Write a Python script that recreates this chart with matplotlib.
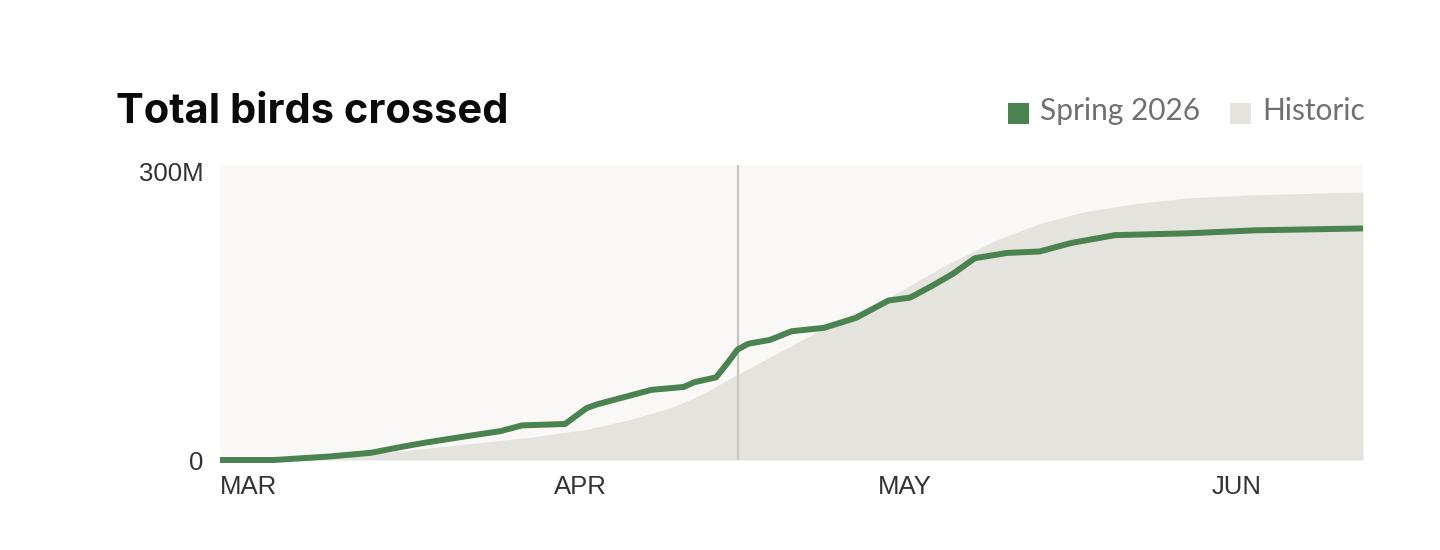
import numpy as np
import pandas as pd
import matplotlib
matplotlib.use('Agg')
import matplotlib.pyplot as plt
from matplotlib.patches import Rectangle

# ---- data (millions of birds) ----
spring_dates = ['2026-03-01', '2026-03-06', '2026-03-11', '2026-03-15', '2026-03-18',
                '2026-03-20', '2026-03-24', '2026-03-27', '2026-03-29', '2026-04-02',
                '2026-04-04', '2026-04-05', '2026-04-07', '2026-04-10', '2026-04-13',
                '2026-04-14', '2026-04-16', '2026-04-17', '2026-04-18', '2026-04-19',
                '2026-04-21', '2026-04-23', '2026-04-26', '2026-04-29', '2026-05-02',
                '2026-05-04', '2026-05-06', '2026-05-08', '2026-05-10', '2026-05-13',
                '2026-05-16', '2026-05-19', '2026-05-23', '2026-05-30', '2026-06-05',
                '2026-06-15']
spring_vals = [0, 0, 3.5, 7.5, 14, 18, 25, 30, 36, 37.5,
               54, 58, 64, 73, 76, 81, 86, 100, 115, 121,
               125, 134, 137.5, 148, 166, 169, 181, 194, 210, 215.5,
               217, 226, 234, 236, 239, 241]

hist_dates = ['2026-03-01', '2026-03-06', '2026-03-11', '2026-03-15', '2026-03-20',
              '2026-03-25', '2026-03-30', '2026-04-04', '2026-04-08', '2026-04-12',
              '2026-04-15', '2026-04-17', '2026-04-20', '2026-04-24', '2026-04-28',
              '2026-05-02', '2026-05-07', '2026-05-12', '2026-05-16', '2026-05-20',
              '2026-05-25', '2026-05-30', '2026-06-05', '2026-06-15']
hist_vals = [0, 1, 3.5, 6, 12, 18, 24, 32, 42, 55,
             70, 83, 101, 125, 149, 169, 201, 229, 246, 258,
             267, 273, 276, 279]

today = '2026-04-18'
tick_dates = ['2026-03-01', '2026-04-01', '2026-05-01', '2026-06-01']
tick_labels = ['MAR', 'APR', 'MAY', 'JUN']

# ---- style ----
GREEN = '#4a8250'
HIST = '#e4e3de'
BG = '#f9f8f6'
TICK = '#333333'
LEG = '#707070'

spring_x = pd.to_datetime(spring_dates)
hist_x = pd.to_datetime(hist_dates)

fig = plt.figure(figsize=(14.4, 5.5), dpi=100)
ax = fig.add_axes([220/1440, 1 - 460/550, (1363-220)/1440, (460-165)/550])
ax.set_facecolor(BG)

ax.fill_between(hist_x, 0, hist_vals, color=HIST, lw=0, zorder=1)
ax.axvline(pd.to_datetime(today), color='#c6c6c2', lw=1.6, zorder=2)
ax.plot(spring_x, spring_vals, color=GREEN, lw=4.3, solid_joinstyle='round',
        solid_capstyle='butt', zorder=3, clip_on=False)

ax.set_xlim(pd.to_datetime('2026-03-01'), pd.to_datetime('2026-06-15'))
ax.set_ylim(0, 307)
for s in ax.spines.values():
    s.set_visible(False)

ax.set_yticks([0, 300])
ax.set_yticklabels(['0', '300M'])
ax.set_xticks(pd.to_datetime(tick_dates))
ax.set_xticklabels(tick_labels)
ax.tick_params(axis='both', length=0, labelsize=18.5, labelcolor=TICK)
ax.tick_params(axis='y', pad=12)
ax.tick_params(axis='x', pad=11)
for lab in ax.get_xticklabels():
    lab.set_horizontalalignment('left')
    lab.set_fontfamily('Liberation Sans')
for lab in ax.get_yticklabels():
    lab.set_fontfamily('Liberation Sans')

# title
fig.text(116/1440, 1 - 123/550, 'Total birds crossed', fontsize=30, fontweight='bold',
         family='Inter', color='#0a0a0a', ha='left', va='baseline')

# legend (manual, as in the reference)
def leg_item(x0, label, col):
    fig.patches.append(Rectangle((x0/1440, 1 - 124/550), 21/1440, 21/550,
                                 transform=fig.transFigure, color=col, lw=0))
    fig.text((x0 + 32)/1440, 1 - 120/550, label, fontsize=21.5, family='Lato',
             color=LEG, ha='left', va='baseline')

leg_item(1008, 'Spring 2026', GREEN)
leg_item(1230, 'Historic', HIST)

fig.savefig('out.png', dpi=100, facecolor='white')
